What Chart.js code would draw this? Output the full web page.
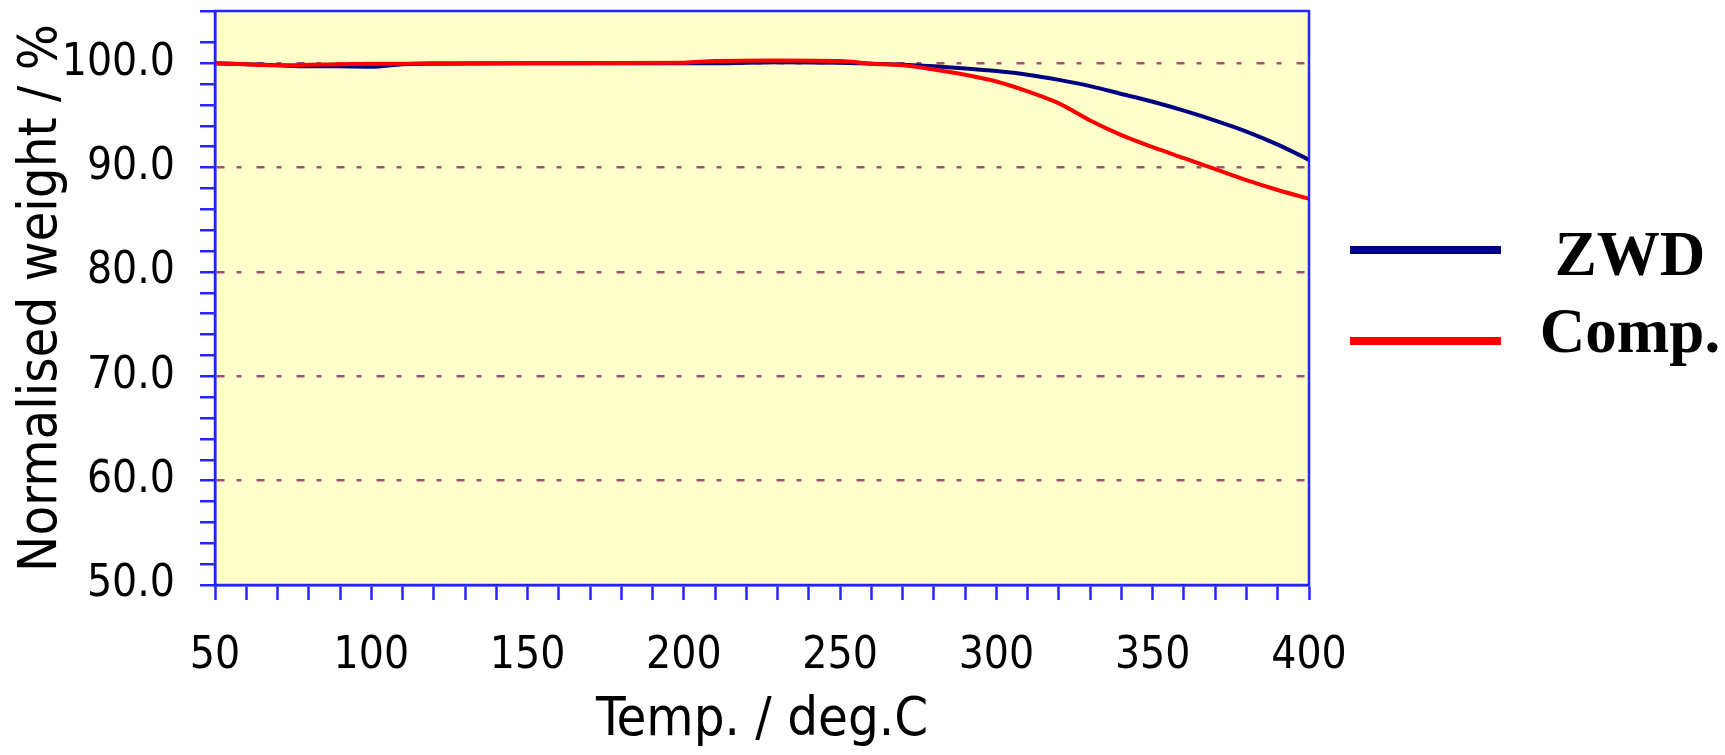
<!DOCTYPE html>
<html>
<head>
<meta charset="utf-8">
<script src="https://cdn.jsdelivr.net/npm/chart.js@4.4.1/dist/chart.umd.min.js"></script>
<style>
  html, body { margin: 0; padding: 0; background: #fff; }
  #wrap { width: 1725px; height: 755px; }
</style>
</head>
<body>
<div id="wrap"><canvas id="tgaChart"></canvas></div>
<script>
// temperatures (deg.C) and normalised weight (%)
const temps = [50, 60, 70, 80, 90, 100, 110, 120, 150, 200, 210, 230, 250, 260, 270,
               280, 290, 300, 310, 320, 330, 340, 350, 360, 370, 380, 390, 400];
const zwd   = [100.0, 99.9, 99.8, 99.7, 99.7, 99.65, 99.9, 99.95, 100.0, 100.0, 100.0, 100.1, 100.05, 99.95, 99.85,
               99.7, 99.5, 99.25, 98.9, 98.4, 97.8, 97.05, 96.3, 95.45, 94.5, 93.45, 92.2, 90.75];
const comp  = [100.0, 99.9, 99.8, 99.85, 99.9, 99.95, 99.95, 100.0, 100.0, 100.05, 100.2, 100.25, 100.2, 99.95, 99.8,
               99.4, 98.9, 98.25, 97.3, 96.15, 94.5, 93.1, 91.95, 90.9, 89.85, 88.8, 87.85, 87.0];
const seriesNames  = ['ZWD', 'Comp.'];
const seriesColors = ['#000080', '#ff0000'];

const xMin = 50, xMax = 400, xLabelStep = 50, xMinorStep = 10;
const yMin = 50, yMax = 105, yLabelStep = 10, yMinorStep = 2;

const FONT = "'DejaVu Sans Condensed', 'DejaVu Sans', sans-serif";
const AXIS_BLUE = '#2424ff';

// yellow plot background + frame on all four sides
const plotFrame = {
    id: 'plotFrame',
    beforeDraw(chart) {
        const { ctx, chartArea: a } = chart;
        ctx.save();
        ctx.fillStyle = '#ffffcc';
        ctx.fillRect(a.left, a.top, a.right - a.left, a.bottom - a.top);
        ctx.restore();
    },
    afterDraw(chart) {
        const { ctx, chartArea: a } = chart;
        ctx.save();
        ctx.strokeStyle = AXIS_BLUE;
        ctx.lineWidth = 2.5;
        ctx.strokeRect(a.left, a.top, a.right - a.left, a.bottom - a.top);
        ctx.restore();
    }
};

// legend on the right: thick line + bold serif label
const sideLegend = {
    id: 'sideLegend',
    afterDraw(chart, args, opts) {
        const { ctx } = chart;
        ctx.save();
        chart.data.datasets.forEach((ds, i) => {
            ctx.strokeStyle = ds.borderColor;
            ctx.lineWidth = 8;
            ctx.beginPath();
            ctx.moveTo(opts.lineX1, opts.lineY[i]);
            ctx.lineTo(opts.lineX2, opts.lineY[i]);
            ctx.stroke();
            ctx.fillStyle = '#000';
            ctx.font = "bold 63px 'Liberation Serif', 'Times New Roman', serif";
            ctx.textAlign = 'center';
            ctx.textBaseline = 'alphabetic';
            ctx.fillText(ds.label, opts.textX, opts.textY[i]);
        });
        ctx.restore();
    }
};

new Chart(document.getElementById('tgaChart'), {
    type: 'line',
    data: {
        datasets: [
            {
                label: seriesNames[0],
                data: temps.map((t, i) => ({ x: t, y: zwd[i] })),
                borderColor: seriesColors[0],
                borderWidth: 4,
                pointRadius: 0,
                cubicInterpolationMode: 'monotone',
                order: 1,
            },
            {
                label: seriesNames[1],
                data: temps.map((t, i) => ({ x: t, y: comp[i] })),
                borderColor: seriesColors[1],
                borderWidth: 4,
                pointRadius: 0,
                cubicInterpolationMode: 'monotone',
                order: 0,
            }
        ]
    },
    options: {
        responsive: true,
        maintainAspectRatio: false,
        animation: false,
        layout: { padding: { top: 11, right: 416, left: 0, bottom: 0 } },
        scales: {
            x: {
                type: 'linear',
                min: xMin,
                max: xMax,
                afterFit: s => { s.height = 170; s.paddingLeft = 0; s.paddingRight = 0; },
                ticks: {
                    stepSize: xMinorStep,
                    autoSkip: false,
                    maxRotation: 0,
                    padding: 30,
                    color: '#000',
                    font: { family: FONT, size: 44 },
                    callback: v => (v % xLabelStep === 0 ? String(v) : ''),
                },
                grid: {
                    drawOnChartArea: false,
                    tickLength: 15,
                    tickColor: AXIS_BLUE,
                    tickWidth: 2.5,
                },
                border: { color: AXIS_BLUE, width: 2.5 },
                title: {
                    display: true,
                    text: 'Temp. / deg.C',
                    color: '#000',
                    font: { family: FONT, size: 54 },
                    padding: { top: 0, bottom: 2 },
                },
            },
            y: {
                min: yMin,
                max: yMax,
                afterFit: s => { s.width = 215; s.paddingTop = 0; s.paddingBottom = 0; },
                ticks: {
                    stepSize: yMinorStep,
                    autoSkip: false,
                    padding: 25,
                    color: '#000',
                    font: { family: FONT, size: 44 },
                    callback: v => (v % yLabelStep === 0 ? v.toFixed(1) : ''),
                },
                grid: {
                    color: c => (c.tick && c.tick.value % yLabelStep === 0 && c.tick.value > yMin ? '#a0507a' : 'transparent'),
                    lineWidth: 2.5,
                    tickLength: 15,
                    tickColor: AXIS_BLUE,
                    tickWidth: 2.5,
                },
                border: { color: AXIS_BLUE, width: 2.5, dash: [8, 12, 5, 15] },
                title: {
                    display: true,
                    text: 'Normalised weight / %',
                    color: '#000',
                    font: { family: FONT, size: 54 },
                    padding: { top: 10, bottom: 0 },
                },
            }
        },
        plugins: {
            legend: { display: false },
            tooltip: { enabled: false },
            sideLegend: {
                lineX1: 1350, lineX2: 1501,
                lineY: [250, 341],
                textX: 1630,
                textY: [275, 352],
            }
        }
    },
    plugins: [plotFrame, sideLegend]
});
</script>
</body>
</html>
